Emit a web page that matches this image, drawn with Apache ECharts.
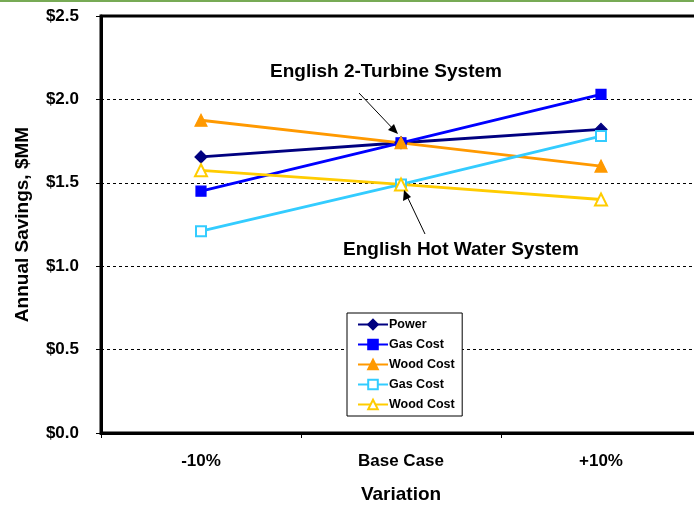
<!DOCTYPE html>
<html>
<head>
<meta charset="utf-8">
<script src="https://cdn.jsdelivr.net/npm/echarts@6/dist/echarts.min.js"></script>
<style>
html, body { margin: 0; padding: 0; background: #fff; }
#main { width: 694px; height: 506px; }
</style>
</head>
<body>
<div id="main"></div>
<script>
// 横轴类别
var categories = ['-10%', 'Base Case', '+10%'];

// 各系列数值 ($MM)
var power_data = [1.655, 1.74, 1.82];
var gas_turbine_data = [1.45, 1.74, 2.03];
var wood_turbine_data = [1.875, 1.74, 1.60];
var gas_hot_data = [1.21, 1.49, 1.78];
var wood_hot_data = [1.575, 1.49, 1.40];

var fontBold = {
	fontFamily: 'Liberation Sans, Arial',
	fontWeight: 'bold',
	color: '#000'
};

function makeSeries(name, data, color, symbol, size) {
	return {
		name: name,
		type: 'line',
		data: data,
		symbol: symbol,
		symbolSize: size,
		showSymbol: true,
		animation: false,
		lineStyle: { color: color, width: 2.8 },
		itemStyle: { color: color, borderColor: color, borderWidth: 1.2 },
		emphasis: { disabled: true }
	};
}

var myChart = echarts.init(document.getElementById('main'));

var option = {
	animation: false,
	backgroundColor: '#fff',
	grid: {
		left: 101,
		top: 16,
		width: 600,
		bottom: 73,
		outerBoundsMode: 'none',
		show: true,
		borderColor: '#000',
		borderWidth: 3,
		backgroundColor: '#fff'
	},
	legend: {
		orient: 'vertical',
		left: 347,
		top: 313,
		width: 114,
		padding: [5, 4, 5, 10],
		itemGap: 7,
		itemWidth: 30,
		itemHeight: 12,
		backgroundColor: '#fff',
		borderColor: '#000',
		borderWidth: 1,
		borderRadius: 0,
		textStyle: {
			fontFamily: 'Liberation Sans, Arial',
			fontWeight: 'bold',
			fontSize: 12.5,
			color: '#000',
			padding: [0, 0, 0, -4]
		},
		data: [
			{ name: 'Power' },
			{ name: 'Gas Cost' },
			{ name: 'Wood Cost' },
			{ name: 'Gas Cost ' },
			{ name: 'Wood Cost ' }
		]
	},
	xAxis: {
		type: 'category',
		data: categories,
		boundaryGap: true,
		name: 'Variation',
		nameLocation: 'middle',
		nameGap: 52,
		nameTextStyle: Object.assign({ fontSize: 19 }, fontBold),
		axisLine: { show: true, lineStyle: { color: '#000', width: 3 } },
		axisTick: { show: true, length: 5, lineStyle: { color: '#000', width: 1 } },
		axisLabel: Object.assign({ fontSize: 17, margin: 20 }, fontBold),
		splitLine: { show: false }
	},
	yAxis: {
		type: 'value',
		min: 0,
		max: 2.5,
		interval: 0.5,
		name: 'Annual Savings, $MM',
		nameLocation: 'middle',
		nameGap: 69,
		nameTextStyle: Object.assign({ fontSize: 19 }, fontBold),
		axisLine: { show: true, lineStyle: { color: '#000', width: 3 } },
		axisTick: { show: true, length: 5, lineStyle: { color: '#000', width: 1 } },
		axisLabel: Object.assign({
			fontSize: 17,
			margin: 22,
			formatter: function (v) {
				return '$' + v.toFixed(1);
			}
		}, fontBold),
		splitLine: {
			show: true,
			lineStyle: { color: '#000', type: [3, 3], width: 1 }
		}
	},
	series: [
		makeSeries('Power', power_data, '#000080', 'diamond', 12),
		makeSeries('Gas Cost', gas_turbine_data, '#0000FF', 'rect', 10),
		makeSeries('Wood Cost', wood_turbine_data, '#FF9900', 'triangle', 12),
		makeSeries('Gas Cost ', gas_hot_data, '#33CCFF', 'emptyRect', 10),
		makeSeries('Wood Cost ', wood_hot_data, '#FFCC00', 'emptyTriangle', 12)
	],
	graphic: [
		// 顶部绿色细线
		{ type: 'rect', shape: { x: 0, y: 0, width: 694, height: 2 }, style: { fill: '#77AA55' }, z: 100 },
		{
			type: 'text', left: 270, top: 62, z: 100,
			style: { text: 'English 2-Turbine System', font: 'bold 19px Liberation Sans, Arial', fill: '#000' }
		},
		{
			type: 'text', left: 343, top: 240, z: 100,
			style: { text: 'English Hot Water System', font: 'bold 19px Liberation Sans, Arial', fill: '#000' }
		},
		// 箭头
		{ type: 'line', shape: { x1: 359, y1: 93, x2: 396, y2: 132 }, style: { stroke: '#000', lineWidth: 1 }, z: 100 },
		{ type: 'polygon', shape: { points: [[398, 134], [388, 130], [394, 124]] }, style: { fill: '#000' }, z: 100 },
		{ type: 'line', shape: { x1: 425, y1: 234, x2: 406, y2: 194 }, style: { stroke: '#000', lineWidth: 1 }, z: 100 },
		{ type: 'polygon', shape: { points: [[404, 190], [403, 201], [411, 197]] }, style: { fill: '#000' }, z: 100 }
	]
};

myChart.setOption(option);
</script>
</body>
</html>
